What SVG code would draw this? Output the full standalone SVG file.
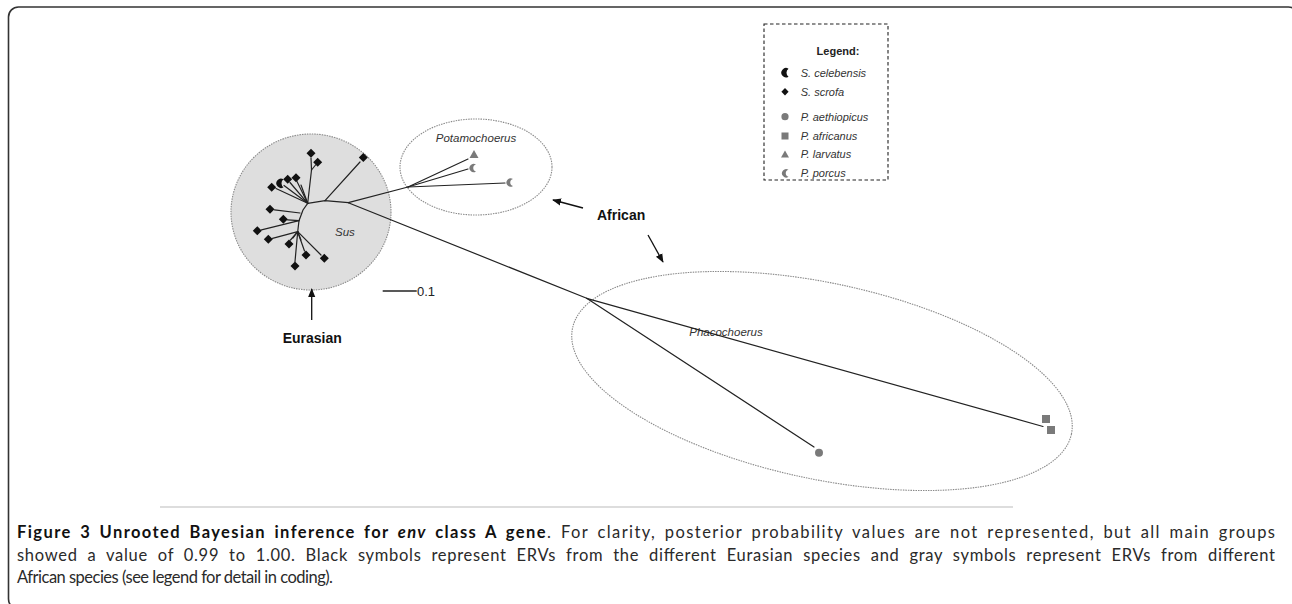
<svg xmlns="http://www.w3.org/2000/svg" width="1292" height="604" viewBox="0 0 1292 604">
<style>
.frame{fill:none;stroke:#333;stroke-width:1.6}
.br{fill:none;stroke:#222;stroke-width:1.2;stroke-linecap:round}
.grp{fill:none;stroke:#8a8a8a;stroke-width:1.1;stroke-dasharray:1.5,1}
.sus{fill:#dedede;stroke:#8a8a8a;stroke-width:1.1;stroke-dasharray:1.5,1}
.blk{fill:#111}
.gry{fill:#7a7a7a}
.lab{font-family:"Liberation Sans",Arial,sans-serif;font-style:italic;font-size:11.5px;fill:#333}
.big{font-family:"Liberation Sans",Arial,sans-serif;font-weight:bold;font-size:14px;fill:#111}
.leg{font-family:"Liberation Sans",Arial,sans-serif;font-style:italic;font-size:11px;fill:#333}
.cap{font-family:Lato,"Open Sans",sans-serif;font-size:16.5px;fill:#2a2a2a}
.arr{fill:none;stroke:#111;stroke-width:1.3}
</style>
<defs>
<marker id="ah" viewBox="0 0 10 10" refX="9" refY="5" markerWidth="9" markerHeight="9" markerUnits="userSpaceOnUse" orient="auto">
<path d="M0,1 L10,5 L0,9 Z" fill="#111"/>
</marker>
<path id="dia" d="M0,-4.5 L4.5,0 L0,4.5 L-4.5,0 Z"/>
<path id="moon" d="M2.5,-4 A4.7 4.7 0 1 0 2.5,4 A5 5 0 0 1 2.5,-4 Z"/>
<path id="cres" d="M3,-3.5 A4.2 4.2 0 1 0 3,3.5 A3.6 3.6 0 0 1 3,-3.5 Z"/>
</defs>

<rect class="frame" x="8.5" y="7" width="1290" height="602" rx="10"/>

<g id="sus-group">
<ellipse class="sus" cx="311" cy="212" rx="80" ry="78"/>
<text class="lab" x="335" y="236" font-size="12">Sus</text>
</g>
<g id="potamochoerus-group">
<ellipse class="grp" cx="476" cy="167" rx="76" ry="48"/>
<text class="lab" x="476" y="142" text-anchor="middle">Potamochoerus</text>
</g>
<g id="phacochoerus-group">
<ellipse class="grp" cx="822" cy="381" rx="255" ry="98" transform="rotate(12 822 381)"/>
<text class="lab" x="726" y="336" text-anchor="middle">Phacochoerus</text>
</g>

<g id="connectors">
<polyline class="br" points="307.7,203.3 325,200.7 348.3,202.7"/>
<line class="br" x1="348.3" y1="202.7" x2="408" y2="187"/>
<line class="br" x1="348.3" y1="202.7" x2="586.7" y2="298.3"/>
<line class="br" x1="325" y1="200.7" x2="360" y2="162"/>
<line class="br" x1="307.7" y1="203.3" x2="311.5" y2="170"/>
<line class="br" x1="311.5" y1="170" x2="311" y2="158"/>
<line class="br" x1="311.5" y1="170" x2="315.5" y2="165"/>
<line class="br" x1="307.7" y1="203.3" x2="276" y2="188.5"/>
<line class="br" x1="307.7" y1="203.3" x2="284" y2="185.5"/>
<line class="br" x1="307.7" y1="203.3" x2="290" y2="182.5"/>
<line class="br" x1="307.7" y1="203.3" x2="297" y2="181.5"/>
<line class="br" x1="307.7" y1="203.3" x2="301" y2="185"/>
<polyline class="br" points="307.7,203.3 303,210 299,220.7 297.7,231.7"/>
<line class="br" x1="300" y1="213" x2="274.5" y2="209.8"/>
<line class="br" x1="299" y1="220.7" x2="287.5" y2="219.8"/>
<line class="br" x1="299" y1="220.7" x2="261.5" y2="229.8"/>
<line class="br" x1="297.7" y1="231.7" x2="272.5" y2="238.3"/>
<line class="br" x1="297.7" y1="231.7" x2="290.5" y2="240"/>
<line class="br" x1="297.7" y1="231.7" x2="304.5" y2="251"/>
<line class="br" x1="297.7" y1="231.7" x2="321" y2="255"/>
<line class="br" x1="297.7" y1="231.7" x2="295" y2="261.5"/>
<line class="br" x1="297.7" y1="231.7" x2="301" y2="240"/>
<line class="br" x1="297.7" y1="231.7" x2="293" y2="238"/>
<line class="br" x1="408" y1="187" x2="468" y2="159"/>
<line class="br" x1="408" y1="187" x2="468" y2="169"/>
<line class="br" x1="408" y1="187" x2="505" y2="183"/>
<line class="br" x1="586.7" y1="298.3" x2="1043" y2="426.5"/>
<line class="br" x1="586.7" y1="298.3" x2="814" y2="447"/>
<line class="arr" x1="583" y1="208" x2="553" y2="200" marker-end="url(#ah)"/>
<line class="arr" x1="648" y1="235" x2="663" y2="262" marker-end="url(#ah)"/>
<line class="arr" x1="311.7" y1="320" x2="311.7" y2="289" marker-end="url(#ah)"/>
<line x1="382.7" y1="291" x2="416.7" y2="291" stroke="#222" stroke-width="1.3"/>
</g>

<g id="sus-leaves" class="blk">
<use href="#dia" x="363.3" y="157.5"/>
<use href="#dia" x="311" y="153.3"/>
<use href="#dia" x="317.7" y="162.3"/>
<use href="#dia" x="271.7" y="187.3"/>
<use href="#moon" x="281" y="183.3"/>
<use href="#dia" x="287.7" y="179.3"/>
<use href="#dia" x="296" y="177.7"/>
<use href="#dia" x="270" y="209.3"/>
<use href="#dia" x="283.3" y="219.3"/>
<use href="#dia" x="257.3" y="230.7"/>
<use href="#dia" x="268.3" y="239.3"/>
<use href="#dia" x="289" y="244"/>
<use href="#dia" x="306" y="255"/>
<use href="#dia" x="324.3" y="258.3"/>
<use href="#dia" x="295" y="266"/>
</g>
<g id="potamochoerus-leaves" class="gry">
<path d="M474,150 L478.5,158 L469.5,158 Z"/>
<use href="#cres" x="473" y="168"/>
<use href="#cres" x="510" y="182.5"/>
</g>
<g id="phacochoerus-leaves" class="gry">
<rect x="1042" y="415" width="8" height="8"/>
<rect x="1047" y="426" width="8" height="8"/>
<circle cx="819" cy="452.7" r="4"/>
</g>

<g id="labels">
<text class="big" x="597" y="220">African</text>
<text class="big" x="282.7" y="342.7">Eurasian</text>
<text x="417" y="296" font-family="Liberation Sans,Arial,sans-serif" font-size="13" fill="#222">0.1</text>
</g>

<g id="legend">
<rect x="764" y="24" width="124" height="156" fill="none" stroke="#222" stroke-width="1.1" stroke-dasharray="3.5,2.5"/>
<text x="838" y="55" text-anchor="middle" font-family="Liberation Sans,Arial,sans-serif" font-weight="bold" font-size="11" fill="#222">Legend:</text>
<use href="#moon" x="786" y="72.7" class="blk"/>
<path d="M785,88 L788.6,91.7 L785,95.4 L781.4,91.7 Z" class="blk"/>
<circle cx="785" cy="116.7" r="3.6" class="gry"/>
<rect x="781.5" y="132.5" width="7" height="7" class="gry"/>
<path d="M785,150.5 L789,157.5 L781,157.5 Z" class="gry"/>
<use href="#cres" x="785.5" y="173.3" class="gry"/>
<text class="leg" x="800.7" y="76.5">S. celebensis</text>
<text class="leg" x="800.7" y="95.5">S. scrofa</text>
<text class="leg" x="800.7" y="120.5">P. aethiopicus</text>
<text class="leg" x="800.7" y="139.5">P. africanus</text>
<text class="leg" x="800.7" y="158">P. larvatus</text>
<text class="leg" x="800.7" y="177">P. porcus</text>
</g>

<g id="caption">
<line x1="160" y1="507" x2="1013" y2="507" stroke="#bbb" stroke-width="1"/>
<text class="cap" x="17" y="538" word-spacing="3" textLength="1258" lengthAdjust="spacing"><tspan font-weight="bold" fill="#111">Figure 3 Unrooted Bayesian inference for <tspan font-style="italic">env</tspan> class A gene</tspan>. For clarity, posterior probability values are not represented, but all main groups</text>
<text class="cap" x="17" y="560.7" word-spacing="5" textLength="1258" lengthAdjust="spacing">showed a value of 0.99 to 1.00. Black symbols represent ERVs from the different Eurasian species and gray symbols represent ERVs from different</text>
<text class="cap" x="17" y="583.3" textLength="316" lengthAdjust="spacing">African species (see legend for detail in coding).</text>
</g>
</svg>
